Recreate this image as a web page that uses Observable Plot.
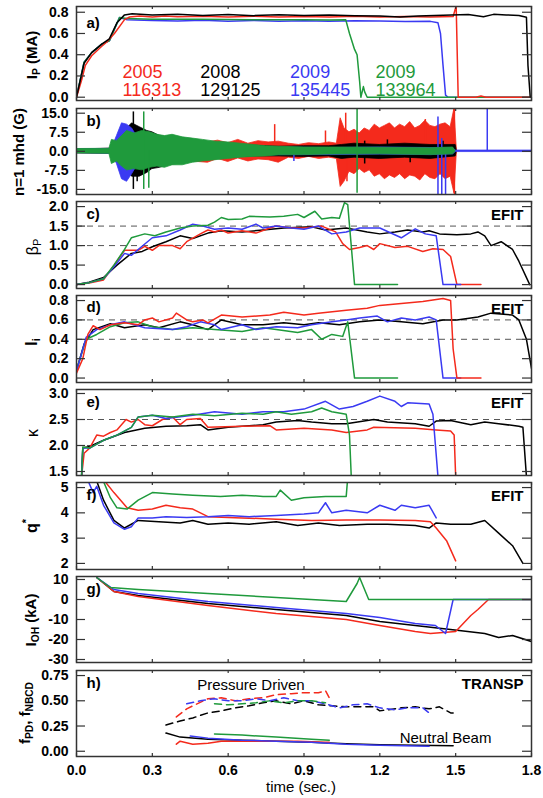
<!DOCTYPE html>
<html><head><meta charset="utf-8">
<script src="https://cdn.jsdelivr.net/npm/d3@7"></script>
<script src="https://cdn.jsdelivr.net/npm/@observablehq/plot@0.6"></script>
<style>
html,body{margin:0;padding:0;background:#fff;}
#chart{position:relative;width:543px;height:798px;overflow:hidden;background:#fff;}
#chart svg{position:absolute;left:0;}
</style></head><body><div id="chart"></div>
<script>
const FONT = '"Liberation Sans", Arial, Helvetica, sans-serif';
const COL = {red: "#f42a1c", black: "#000000", blue: "#3a3af2", green: "#1f9a3c"};

// shared x ticks (time, s)
const xTicks = [0, 0.3, 0.6, 0.9, 1.2, 1.5, 1.8];

// legend text (panel a)
const years = ["2005", "2008", "2009", "2009"];
const shots = ["116313", "129125", "135445", "133964"];
const shotColors = [COL.red, COL.black, COL.blue, COL.green];

// a) plasma current Ip (MA): [t, value]
const ipRed = [[0,0],[0.02,0.16],[0.035,0.3],[0.06,0.39],[0.1,0.48],[0.12,0.52],[0.15,0.6],[0.19,0.73],[0.21,0.755],[0.25,0.765],[0.3,0.755],[0.35,0.765],[0.4,0.758],[0.5,0.762],[0.6,0.755],[0.7,0.762],[0.8,0.755],[0.9,0.76],[1.0,0.755],[1.1,0.762],[1.2,0.755],[1.3,0.76],[1.4,0.755],[1.49,0.76],[1.502,0.86],[1.51,0],[1.58,0],[1.6,0.012],[1.62,0],[1.8,0]];
const ipBlack = [[0,0],[0.03,0.32],[0.06,0.42],[0.1,0.5],[0.13,0.55],[0.16,0.7],[0.19,0.775],[0.22,0.785],[0.3,0.775],[0.4,0.782],[0.5,0.77],[0.6,0.778],[0.7,0.768],[0.8,0.776],[0.9,0.77],[1.0,0.775],[1.1,0.768],[1.2,0.765],[1.28,0.755],[1.35,0.765],[1.45,0.772],[1.55,0.778],[1.61,0.757],[1.65,0.78],[1.7,0.775],[1.75,0.77],[1.78,0.752],[1.786,0.3],[1.795,0],[1.8,0]];
const ipBlue = [[0,0],[0.03,0.33],[0.06,0.42],[0.1,0.5],[0.13,0.53],[0.17,0.75],[0.2,0.73],[0.3,0.722],[0.4,0.718],[0.5,0.724],[0.6,0.716],[0.7,0.722],[0.8,0.716],[0.9,0.72],[1.0,0.714],[1.1,0.72],[1.2,0.718],[1.3,0.713],[1.4,0.714],[1.43,0.7],[1.44,0.6],[1.45,0.3],[1.46,0.02],[1.47,0],[1.8,0]];
const ipGreen = [[0,0],[0.03,0.33],[0.06,0.42],[0.1,0.5],[0.13,0.53],[0.17,0.75],[0.2,0.74],[0.3,0.735],[0.5,0.734],[0.7,0.73],[0.9,0.73],[1.0,0.728],[1.065,0.73],[1.08,0.6],[1.1,0.45],[1.11,0.4],[1.12,0.15],[1.125,0],[1.135,0.1],[1.14,0.05],[1.15,0],[1.8,0]];

// b) n=1 mhd (G) envelopes: [t, lower, upper]; spikes: [t, y1, y2]
const bRedEnv = [[0,-0.8,0.8],[0.14,-1,1],[0.16,-4,4],[0.25,-6,6],[0.35,-5,5],[0.45,-4,4],[0.52,-4.5,3.5],[0.56,-3,4.2],[0.6,-4.2,3.2],[0.64,-2.8,4.5],[0.68,-4,3],[0.72,-3.2,4],[0.76,-3.5,3.5],[0.8,-4.5,3.8],[0.84,-2.5,3],[0.88,-3,2.5],[0.92,-2.2,3.2],[0.96,-3,2.8],[1.0,-2.5,3.5],[1.03,-3,3],[1.045,-14,13],[1.06,-12,9],[1.08,-8,7.5],[1.1,-9,8.5],[1.12,-7,7],[1.14,-8.5,9],[1.16,-7.5,8],[1.18,-10,10.5],[1.2,-9,9],[1.22,-11,10],[1.24,-9.5,11],[1.26,-10.5,9],[1.28,-9,10.5],[1.3,-11,9.5],[1.32,-9.5,11.5],[1.34,-10,9],[1.36,-11.5,10],[1.38,-9,12],[1.4,-10.5,10],[1.42,-11,9.5],[1.44,-9,10.5],[1.46,-11,11],[1.48,-10,9.5],[1.495,-16.5,16.7],[1.505,0,0]];
const bRedSpikes = [[0.784,0,10.5],[0.985,0,8],[1.065,0,15],[1.07,-12,0],[1.38,0,12.5],[1.495,-17,16.8]];
const bBlackEnv = [[0,-0.7,0.7],[0.14,-1,1],[0.17,-4,5],[0.2,-8,9],[0.22,-10,11],[0.25,-10,9.5],[0.28,-8.5,8],[0.3,-7,7.5],[0.33,-6.5,6],[0.36,-5.5,5.5],[0.4,-5,5.5],[0.45,-4,4.5],[0.5,-3.5,3.5],[0.55,-3,3],[0.6,-2.5,2.5],[0.7,-2,2.2],[0.8,-2,1.8],[0.9,-2.2,2],[1.0,-2,2],[1.05,-3,2.5],[1.1,-2.5,3],[1.2,-3,2.5],[1.3,-2.5,3],[1.4,-3,2.5],[1.5,-2,2.5],[1.505,0,0]];
const bBlackSpikes = [[0.225,-15,15.5],[0.24,-12,0],[1.14,-5,4],[1.23,0,4.5],[1.32,-4.5,0],[1.45,0,4]];
const bBlueEnv = [[0,-0.8,0.8],[0.14,-1,1],[0.16,-5,6],[0.18,-11,11],[0.2,-12,10.5],[0.22,-9,9],[0.25,-4,4],[0.3,-3,3],[0.4,-2.5,2.5],[0.6,-2,1.8],[0.8,-1.5,1.5],[1.0,-1.5,1.3],[1.2,-1.3,1.5],[1.4,-1.5,1.3],[1.49,-1.2,1.2],[1.5,-0.3,0.3],[1.8,-0.3,0.3]];
const bBlueSpikes = [[0.86,-4,0],[1.43,-17,13.5],[1.445,-17,5],[1.46,-17,0],[1.625,0,17]];
const bGreenEnv = [[0,-0.9,0.9],[0.13,-1,1],[0.14,-5,4.5],[0.16,-4,4],[0.18,-6,6],[0.2,-7.5,8],[0.23,-7,7],[0.26,-7.5,8],[0.29,-6.5,7.5],[0.32,-6,6.5],[0.35,-6.5,6],[0.38,-5.5,6.5],[0.42,-5.5,5.5],[0.46,-4.5,5],[0.5,-4,4.5],[0.55,-3.5,3.8],[0.6,-3,3.5],[0.65,-2.5,3],[0.7,-2.2,2.5],[0.75,-2,2],[0.8,-1.6,1.8],[0.9,-1.5,1.5],[1.0,-1.3,1.5],[1.2,-1.2,1.4],[1.4,-1.5,1.2],[1.49,-1.2,1.5],[1.5,0,0]];
const bGreenSpikes = [[0.266,-15,15.5],[0.286,-14.5,0],[1.11,-16.5,16.8]];

// c) beta_p (EFIT)
const bpRed = [[0,0],[0.05,0.04],[0.107,0.12],[0.16,0.6],[0.19,0.88],[0.244,0.88],[0.27,0.98],[0.3,0.88],[0.326,1.0],[0.38,1.0],[0.41,0.92],[0.436,1.1],[0.49,1.3],[0.52,1.4],[0.546,1.35],[0.573,1.4],[0.6,1.32],[0.655,1.38],[0.71,1.32],[0.765,1.45],[0.79,1.5],[0.85,1.45],[0.9,1.45],[0.97,1.5],[1.025,1.35],[1.053,1.05],[1.08,0.9],[1.12,0.95],[1.15,1.0],[1.176,0.9],[1.2,1.05],[1.26,0.95],[1.31,0.98],[1.37,0.85],[1.41,0.92],[1.45,0.9],[1.48,0.72],[1.505,0],[1.6,0]];
const bpBlack = [[0,0],[0.05,0.06],[0.107,0.18],[0.16,0.5],[0.217,0.8],[0.26,0.85],[0.3,0.97],[0.354,1.1],[0.41,1.25],[0.46,1.18],[0.52,1.32],[0.573,1.38],[0.655,1.35],[0.738,1.4],[0.82,1.45],[0.93,1.48],[0.985,1.4],[1.067,1.45],[1.15,1.35],[1.2,1.3],[1.26,1.35],[1.31,1.4],[1.37,1.35],[1.395,1.38],[1.436,1.3],[1.505,1.28],[1.56,1.3],[1.588,1.35],[1.615,1.25],[1.64,1.0],[1.68,1.1],[1.725,0.9],[1.75,0.6],[1.793,0]];
const bpBlue = [[0,0],[0.05,0.05],[0.107,0.15],[0.16,0.55],[0.19,0.8],[0.217,0.75],[0.244,0.9],[0.3,1.2],[0.354,1.25],[0.41,1.4],[0.46,1.55],[0.5,1.5],[0.546,1.42],[0.6,1.45],[0.655,1.42],[0.71,1.55],[0.738,1.45],[0.79,1.5],[0.85,1.45],[0.9,1.42],[0.957,1.5],[1.01,1.3],[1.067,1.35],[1.12,1.45],[1.2,1.45],[1.285,1.2],[1.34,1.43],[1.38,1.3],[1.423,1.25],[1.45,0],[1.52,0]];
const bpGreen = [[0,0],[0.05,0.05],[0.107,0.15],[0.148,0.5],[0.19,0.9],[0.217,1.2],[0.27,1.3],[0.31,1.25],[0.354,1.35],[0.41,1.45],[0.46,1.5],[0.52,1.52],[0.546,1.6],[0.573,1.72],[0.6,1.67],[0.655,1.68],[0.683,1.75],[0.765,1.73],[0.82,1.75],[0.875,1.8],[0.9,1.72],[0.943,1.88],[0.97,1.68],[1.01,1.72],[1.04,1.7],[1.06,2.1],[1.073,2.05],[1.1,0],[1.27,0]];

// d) li (EFIT)
const liRed = [[0,0.05],[0.025,0.2],[0.045,0.45],[0.066,0.54],[0.093,0.5],[0.134,0.55],[0.19,0.57],[0.244,0.55],[0.27,0.6],[0.3,0.62],[0.326,0.58],[0.38,0.62],[0.395,0.67],[0.436,0.6],[0.46,0.58],[0.5,0.6],[0.52,0.57],[0.573,0.65],[0.655,0.63],[0.765,0.65],[0.82,0.68],[0.9,0.65],[0.957,0.67],[1.067,0.7],[1.15,0.72],[1.2,0.75],[1.285,0.77],[1.37,0.79],[1.45,0.82],[1.48,0.8],[1.49,0.3],[1.505,0],[1.6,0]];
const liBlack = [[0,0.08],[0.03,0.35],[0.066,0.5],[0.134,0.56],[0.19,0.52],[0.27,0.55],[0.326,0.52],[0.41,0.58],[0.46,0.55],[0.52,0.5],[0.573,0.6],[0.655,0.55],[0.738,0.55],[0.82,0.57],[0.9,0.55],[0.957,0.57],[1.04,0.55],[1.12,0.58],[1.2,0.6],[1.285,0.58],[1.37,0.56],[1.45,0.6],[1.505,0.6],[1.588,0.63],[1.64,0.67],[1.725,0.65],[1.75,0.6],[1.78,0.4],[1.8,0.1]];
const liBlue = [[0,0.07],[0.038,0.42],[0.08,0.5],[0.134,0.55],[0.19,0.58],[0.27,0.52],[0.38,0.5],[0.436,0.53],[0.49,0.58],[0.546,0.55],[0.573,0.5],[0.655,0.55],[0.71,0.5],[0.79,0.53],[0.875,0.52],[0.93,0.55],[1.01,0.58],[1.067,0.6],[1.12,0.62],[1.19,0.64],[1.23,0.58],[1.285,0.62],[1.34,0.6],[1.395,0.63],[1.423,0.6],[1.45,0],[1.52,0]];
const liGreen = [[0,0.08],[0.038,0.4],[0.08,0.45],[0.134,0.53],[0.19,0.57],[0.244,0.58],[0.3,0.53],[0.38,0.5],[0.46,0.52],[0.546,0.5],[0.655,0.48],[0.738,0.52],[0.79,0.5],[0.875,0.47],[0.93,0.5],[0.97,0.4],[1.01,0.45],[1.053,0.43],[1.073,0.58],[1.1,0],[1.27,0]];

// e) kappa (EFIT)
const kRed = [[0.02,1.4],[0.03,1.85],[0.052,1.95],[0.08,2.2],[0.107,2.18],[0.134,2.25],[0.16,2.3],[0.196,2.5],[0.217,2.45],[0.244,2.5],[0.27,2.4],[0.3,2.38],[0.34,2.5],[0.38,2.55],[0.41,2.4],[0.436,2.5],[0.49,2.52],[0.52,2.35],[0.655,2.37],[0.765,2.38],[0.79,2.3],[0.9,2.33],[1.01,2.3],[1.067,2.25],[1.15,2.3],[1.176,2.35],[1.34,2.33],[1.423,2.3],[1.48,2.28],[1.494,2.2],[1.5,1.4]];
const kBlack = [[0.02,1.4],[0.025,1.95],[0.052,1.98],[0.107,2.1],[0.19,2.25],[0.27,2.33],[0.354,2.37],[0.436,2.38],[0.49,2.4],[0.52,2.3],[0.6,2.35],[0.683,2.38],[0.738,2.4],[0.79,2.45],[0.875,2.48],[0.93,2.45],[1.01,2.42],[1.067,2.42],[1.176,2.5],[1.23,2.45],[1.34,2.42],[1.395,2.37],[1.423,2.47],[1.48,2.48],[1.56,2.4],[1.615,2.45],[1.67,2.42],[1.75,2.37],[1.766,2.35],[1.78,1.4]];
const kBlue = [[0.02,1.4],[0.025,1.95],[0.052,1.95],[0.107,2.1],[0.16,2.2],[0.217,2.35],[0.244,2.55],[0.3,2.58],[0.354,2.52],[0.46,2.58],[0.546,2.65],[0.655,2.6],[0.738,2.65],[0.82,2.65],[0.9,2.7],[0.985,2.85],[1.04,2.7],[1.094,2.75],[1.15,2.85],[1.2,2.95],[1.26,2.85],[1.285,2.75],[1.31,2.82],[1.395,2.8],[1.41,2.6],[1.43,1.4]];
const kGreen = [[0.02,1.4],[0.025,1.97],[0.052,1.95],[0.107,2.1],[0.16,2.2],[0.217,2.35],[0.244,2.55],[0.3,2.58],[0.38,2.55],[0.46,2.6],[0.546,2.57],[0.655,2.62],[0.738,2.6],[0.79,2.65],[0.85,2.6],[0.93,2.65],[0.97,2.72],[1.01,2.65],[1.067,2.6],[1.08,2.2],[1.087,1.4]];

// f) q* (EFIT)
const qRed = [[0.1,5.4],[0.148,4.8],[0.2,4.2],[0.244,4.1],[0.3,4.15],[0.354,4.3],[0.41,4.2],[0.46,4.15],[0.52,3.85],[0.655,3.8],[0.79,3.75],[0.93,3.7],[1.067,3.72],[1.2,3.72],[1.34,3.7],[1.4,3.65],[1.423,3.4],[1.464,2.9],[1.5,2.1]];
const qBlack = [[0.075,5.4],[0.107,4.5],[0.148,3.7],[0.19,3.4],[0.244,3.7],[0.326,3.65],[0.41,3.6],[0.46,3.7],[0.52,3.55],[0.6,3.6],[0.683,3.55],[0.79,3.65],[0.875,3.5],[0.957,3.6],[1.04,3.5],[1.15,3.55],[1.23,3.55],[1.34,3.5],[1.395,3.4],[1.423,3.6],[1.48,3.55],[1.56,3.55],[1.615,3.7],[1.67,3.2],[1.725,2.7],[1.766,2.0]];
const qBlue = [[0.04,5.4],[0.066,4.8],[0.08,5.05],[0.107,4.3],[0.148,3.6],[0.19,3.35],[0.217,3.45],[0.244,3.8],[0.3,3.8],[0.354,3.85],[0.436,3.82],[0.52,3.85],[0.6,3.9],[0.683,3.85],[0.79,3.9],[0.9,3.95],[0.957,4.0],[0.985,4.4],[1.01,4.0],[1.067,4.1],[1.15,4.0],[1.2,4.3],[1.26,4.1],[1.285,4.3],[1.34,4.2],[1.395,4.3],[1.423,3.8]];
const qGreen = [[0.1,5.4],[0.134,4.6],[0.16,4.2],[0.2,4.15],[0.244,4.5],[0.3,4.8],[0.38,4.75],[0.46,4.7],[0.57,4.65],[0.655,4.7],[0.738,4.65],[0.79,4.65],[0.806,4.9],[0.85,4.5],[0.9,4.6],[0.985,4.65],[1.067,4.65],[1.073,5.4]];

// g) I_OH (kA)
const ohRed = [[0.08,11],[0.148,4],[0.244,1.5],[0.52,-3],[0.79,-7],[1.067,-10],[1.2,-13],[1.34,-16],[1.4,-17],[1.5,-16],[1.56,-8],[1.588,-5],[1.63,0],[1.8,0]];
const ohBlack = [[0.08,11],[0.148,4],[0.244,2],[0.52,-2],[0.79,-5],[1.067,-8],[1.2,-11],[1.34,-13],[1.48,-15],[1.615,-17],[1.67,-19],[1.725,-18],[1.8,-21]];
const ohBlue = [[0.08,11],[0.148,5],[0.244,3],[0.52,-1],[0.79,-4],[1.067,-7],[1.2,-9],[1.34,-12],[1.42,-13],[1.46,-17],[1.49,0],[1.8,0]];
const ohGreen = [[0.08,11],[0.134,6],[0.244,5],[0.52,3],[0.79,1],[1.067,-1],[1.11,8],[1.12,11],[1.156,0],[1.8,0]];

// h) TRANSP fractions: pressure driven (dashed) and neutral beam (solid)
const pdRed = [[0.395,0.34],[0.436,0.42],[0.46,0.45],[0.52,0.52],[0.573,0.53],[0.628,0.5],[0.683,0.52],[0.738,0.53],[0.79,0.56],[0.85,0.57],[0.9,0.58],[0.957,0.58],[0.985,0.6],[1.0,0.53]];
const pdBlack = [[0.354,0.26],[0.41,0.3],[0.46,0.33],[0.52,0.38],[0.573,0.4],[0.628,0.43],[0.683,0.45],[0.738,0.48],[0.79,0.5],[0.85,0.47],[0.9,0.5],[0.957,0.46],[1.01,0.45],[1.067,0.44],[1.12,0.44],[1.176,0.44],[1.2,0.4],[1.285,0.43],[1.34,0.44],[1.395,0.42],[1.436,0.44],[1.48,0.38],[1.49,0.38]];
const pdBlue = [[0.436,0.47],[0.49,0.5],[0.546,0.52],[0.6,0.5],[0.655,0.5],[0.71,0.52],[0.765,0.5],[0.82,0.53],[0.875,0.5],[0.93,0.5],[0.985,0.47],[1.04,0.43],[1.094,0.46],[1.15,0.47],[1.2,0.43],[1.26,0.41],[1.31,0.43],[1.37,0.43],[1.395,0.38]];
const pdGreen = [[0.546,0.47],[0.6,0.46],[0.655,0.47],[0.71,0.48],[0.765,0.5],[0.82,0.48],[0.875,0.5],[0.93,0.5],[0.985,0.48]];
const nbRed = [[0.395,0.07],[0.41,0.1],[0.46,0.07],[0.52,0.08],[0.573,0.1],[0.655,0.1],[0.765,0.1],[0.875,0.1],[0.985,0.09],[1.0,0.09]];
const nbBlack = [[0.354,0.18],[0.41,0.14],[0.52,0.12],[0.655,0.11],[0.79,0.1],[0.93,0.09],[1.067,0.075],[1.2,0.065],[1.34,0.06],[1.49,0.055]];
const nbBlue = [[0.45,0.15],[0.52,0.13],[0.655,0.11],[0.79,0.1],[0.93,0.09],[1.067,0.07],[1.2,0.06],[1.395,0.05]];
const nbGreen = [[0.546,0.17],[0.655,0.16],[0.79,0.14],[0.93,0.12],[1.0,0.11]];

// dashed reference levels
const gridC = [1.0, 1.5];
const gridD = [0.4, 0.6];
const gridE = [2.0, 2.5];

const chart = document.getElementById("chart");
const PLOT_W = 543 - 76 - 12;

function ln(data, color, extra = {}) {
  return Plot.line(data, {x: d => d[0], y: d => d[1], stroke: color, strokeWidth: 1.5, clip: true, ...extra});
}
function grid(vals) {
  return Plot.ruleY(vals, {y: d => d, stroke: "#555", strokeWidth: 1, strokeDasharray: "6,5"});
}

function panel({top, bottom, domain, yTicks, fmt, marks, letter, tag, xAxis, letterDy = 15}) {
  const h = bottom - top;
  const mt = 2, mb = xAxis ? 42 : 2;
  const svg = Plot.plot({
    width: 543, height: h + mt + mb,
    marginTop: mt, marginBottom: mb, marginLeft: 76, marginRight: 12,
    x: {domain: [0, 1.8], ...(xAxis ? {} : {axis: null})},
    y: {domain},
    style: {fontFamily: FONT, background: "transparent", overflow: "visible", color: "#000"},
    marks: [
      ...marks,
      Plot.tickY(yTicks, {y: d => d, insetRight: PLOT_W - 9, stroke: "#333", strokeWidth: 1.2}),
      Plot.tickY(yTicks, {y: d => d, insetLeft: PLOT_W - 9, stroke: "#333", strokeWidth: 1.2}),
      Plot.tickX(xTicks, {x: d => d, insetBottom: h - 3, stroke: "#333", strokeWidth: 1.2}),
      Plot.tickX(xTicks, {x: d => d, insetTop: h - 3, stroke: "#333", strokeWidth: 1.2}),
      Plot.axisY(yTicks, {tickSize: 0, tickPadding: 8, tickFormat: fmt, fontWeight: "bold", fontSize: 14, label: null}),
      xAxis ? Plot.axisX(xTicks, {tickSize: 0, tickPadding: 9, tickFormat: d => d.toFixed(1), fontWeight: "bold", fontSize: 14, label: null}) : null,
      Plot.frame({stroke: "#333", strokeWidth: 1.5}),
      Plot.text([letter], {text: d => d, frameAnchor: "top-left", dx: 10, dy: letterDy, textAnchor: "start", lineAnchor: "middle", fontWeight: "bold", fontSize: 15}),
      tag ? Plot.text([tag], {text: d => d, frameAnchor: "top-right", dx: -8, dy: 14, textAnchor: "end", lineAnchor: "middle", fontWeight: "bold", fontSize: 15}) : null
    ]
  });
  svg.style.top = (top - mt) + "px";
  chart.append(svg);
}

const f1 = d => d.toFixed(1);
const f0 = d => d.toFixed(0);
const f2 = d => d.toFixed(2);
const legendX = [0.182, 0.49, 0.845, 1.183];

panel({top: 6, bottom: 100, domain: [-0.031, 0.854], yTicks: [0, 0.2, 0.4, 0.6, 0.8], fmt: f1, letter: "a)", letterDy: 17,
  marks: [
    ln(ipBlue, COL.blue), ln(ipGreen, COL.green), ln(ipRed, COL.red), ln(ipBlack, COL.black),
    Plot.text(years, {x: (d, i) => legendX[i], y: 0.236, text: d => d, fill: (d, i) => shotColors[i], textAnchor: "start", lineAnchor: "middle", fontSize: 18}),
    Plot.text(shots, {x: (d, i) => legendX[i], y: 0.064, text: d => d, fill: (d, i) => shotColors[i], textAnchor: "start", lineAnchor: "middle", fontSize: 18})
  ]});

function env(data, color) {
  return Plot.areaY(data, {x: d => d[0], y1: d => d[1], y2: d => d[2], fill: color, stroke: color, strokeWidth: 0.8, clip: true});
}
function spikes(data, color) {
  return Plot.ruleX(data, {x: d => d[0], y1: d => d[1], y2: d => d[2], stroke: color, strokeWidth: 1.5, clip: true});
}
panel({top: 108, bottom: 194, domain: [-17, 16.85], yTicks: [-15, -7.5, 0, 7.5, 15], fmt: f1, letter: "b)", letterDy: 13,
  marks: [
    env(bRedEnv, COL.red), spikes(bRedSpikes, COL.red),
    env(bBlackEnv, COL.black), spikes(bBlackSpikes, COL.black),
    env(bBlueEnv, COL.blue), spikes(bBlueSpikes, COL.blue),
    env(bGreenEnv, COL.green), spikes(bGreenSpikes, COL.green)
  ]});

panel({top: 201, bottom: 288, domain: [-0.10, 2.13], yTicks: [0, 0.5, 1, 1.5, 2], fmt: f1, letter: "c)", tag: "EFIT", letterDy: 13,
  marks: [grid(gridC), ln(bpBlack, COL.black), ln(bpRed, COL.red), ln(bpBlue, COL.blue), ln(bpGreen, COL.green)]});

panel({top: 295, bottom: 382, domain: [-0.046, 0.852], yTicks: [0, 0.2, 0.4, 0.6, 0.8], fmt: f1, letter: "d)", tag: "EFIT", letterDy: 12,
  marks: [grid(gridD), ln(liBlack, COL.black), ln(liGreen, COL.green), ln(liBlue, COL.blue), ln(liRed, COL.red)]});

panel({top: 389, bottom: 475, domain: [1.423, 3.077], yTicks: [1.5, 2, 2.5, 3], fmt: f1, letter: "e)", tag: "EFIT", letterDy: 13,
  marks: [grid(gridE), ln(kBlack, COL.black), ln(kRed, COL.red), ln(kBlue, COL.blue), ln(kGreen, COL.green)]});

panel({top: 482, bottom: 569, domain: [1.76, 5.2], yTicks: [2, 3, 4, 5], fmt: f0, letter: "f)", tag: "EFIT", letterDy: 13,
  marks: [ln(qBlack, COL.black), ln(qRed, COL.red), ln(qBlue, COL.blue), ln(qGreen, COL.green)]});

panel({top: 576, bottom: 662, domain: [-31.5, 11.5], yTicks: [-30, -20, -10, 0, 10], fmt: f0, letter: "g)", letterDy: 13,
  marks: [ln(ohBlack, COL.black), ln(ohRed, COL.red), ln(ohBlue, COL.blue), ln(ohGreen, COL.green)]});

const dash = {strokeDasharray: "7,5"};
panel({top: 670, bottom: 756, domain: [-0.052, 0.80], yTicks: [0, 0.25, 0.5, 0.75], fmt: f2, letter: "h)", tag: "TRANSP", letterDy: 13, xAxis: true,
  marks: [
    ln(pdBlack, COL.black, dash), ln(pdRed, COL.red, dash), ln(pdBlue, COL.blue, dash), ln(pdGreen, COL.green, dash),
    ln(nbBlack, COL.black), ln(nbRed, COL.red), ln(nbBlue, COL.blue), ln(nbGreen, COL.green),
    Plot.text(["Pressure Driven"], {x: 0.69, y: 0.65, text: d => d, fontSize: 15, lineAnchor: "middle"}),
    Plot.text(["Neutral Beam"], {x: 1.46, y: 0.125, text: d => d, fontSize: 15, lineAnchor: "middle"})
  ]});

// rotated y labels and x label
const ov = d3.create("svg").attr("width", 543).attr("height", 798)
  .style("top", "0px").style("pointer-events", "none")
  .attr("font-family", FONT);
function ylabel(x, y, parts, opts = {}) {
  const t = ov.append("text").attr("transform", `translate(${x},${y}) rotate(-90)`)
    .attr("text-anchor", "middle").attr("dominant-baseline", "middle")
    .attr("font-size", opts.size || 15).attr("font-weight", opts.weight || "bold");
  let shift = 0;
  for (const [s, kind] of parts) {
    const span = t.append("tspan").text(s);
    let target = kind === "sub" ? 4 : kind === "sup" ? -6 : 0;
    if (target !== shift) span.attr("dy", target - shift);
    if (kind) span.attr("font-size", (opts.size || 15) * 0.68);
    shift = target;
  }
}
ylabel(33, 55, [["I"], ["P", "sub"], [" (MA)"]]);
ylabel(20, 152, [["n=1 mhd (G)"]]);
ylabel(34, 247, [["β", null], ["P", "sub"]], {weight: "normal", size: 16});
ylabel(33, 342, [["l"], ["i", "sub"]], {size: 16});
ylabel(34, 433, [["κ"]], {weight: "normal", size: 16});
ylabel(33, 526, [["q"], ["*", "sup"]], {size: 16});
ylabel(32, 620, [["I"], ["OH", "sub"], [" (kA)"]]);
ylabel(26, 713, [["f"], ["PD", "sub"], [", f", null], ["NBCD", "sub"]]);
ov.append("text").attr("x", 301).attr("y", 792).attr("text-anchor", "middle")
  .attr("font-size", 15).text("time (sec.)");
chart.append(ov.node());
</script></body></html>
